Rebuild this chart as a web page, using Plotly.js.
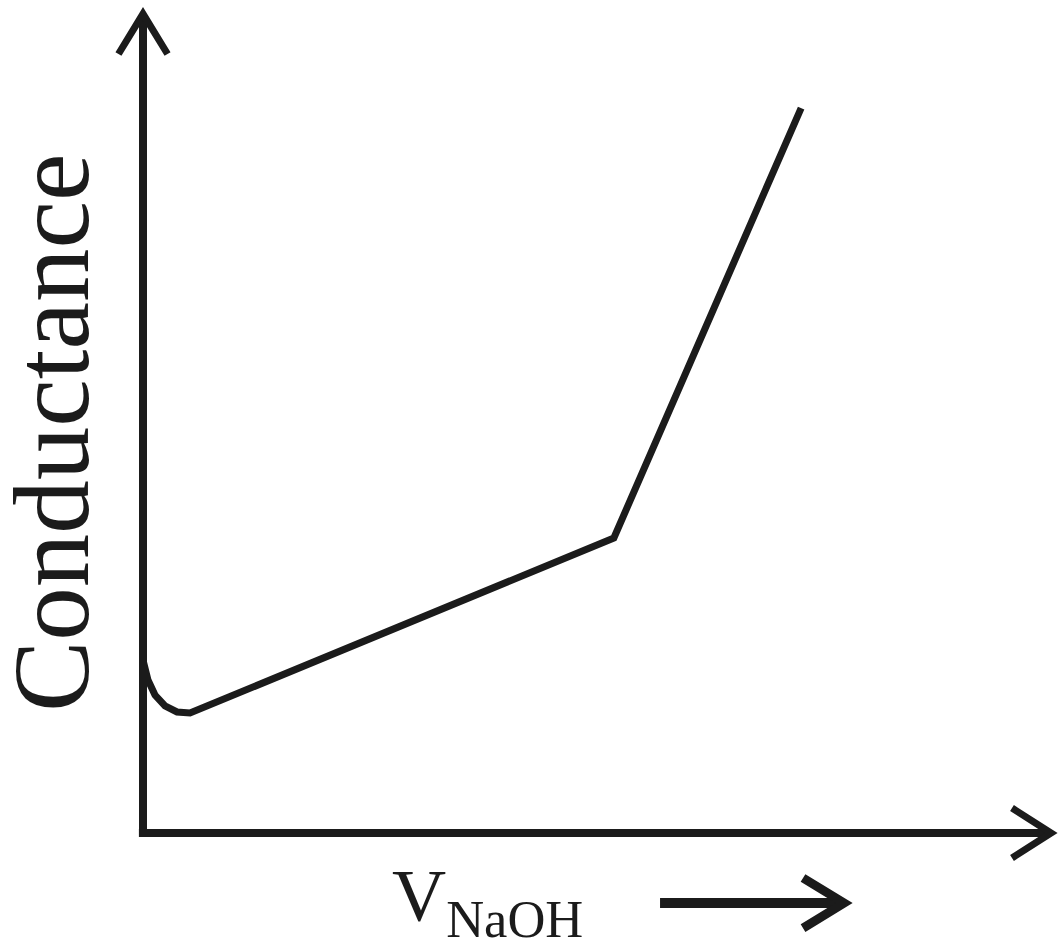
<!DOCTYPE html>
<html>
<head>
<meta charset="utf-8">
<script src="https://cdn.plot.ly/plotly-3.0.1.min.js"></script>
<style>html,body{margin:0;padding:0;background:#fff;}#chart{width:1062px;height:941px;}</style>
</head>
<body>
<div id="chart"></div>
<script>
// Data (arbitrary units)
const volumeNaOH = [0, 0.055, 0.132, 0.242, 0.374, 0.517, 5.18, 7.24];
const conductance = [2.11, 1.866, 1.683, 1.549, 1.476, 1.463, 3.598, 8.841];
const yTitle = 'Conductance';
const xTitle = 'V<sub>NaOH</sub>';

const ink = '#1b1b1b';

const trace = {
  x: volumeNaOH,
  y: conductance,
  type: 'scatter',
  mode: 'lines',
  line: {color: ink, width: 7, shape: 'linear'},
  hoverinfo: 'skip',
  showlegend: false
};

const hiddenAxis = {
  showgrid: false, zeroline: false, showline: false,
  showticklabels: false, ticks: '', fixedrange: true
};

const layout = {
  width: 1062,
  height: 941,
  margin: {l: 143, r: 10, t: 13, b: 108},
  paper_bgcolor: '#ffffff',
  plot_bgcolor: '#ffffff',
  xaxis: Object.assign({range: [0, 10]}, hiddenAxis),
  yaxis: Object.assign({range: [0, 10]}, hiddenAxis),
  shapes: [
    // y axis line
    {type: 'line', xref: 'paper', yref: 'paper', x0: 0, x1: 0, y0: -0.005, y1: 0.998,
     line: {color: ink, width: 8}},
    // y axis arrowhead
    {type: 'path', xref: 'paper', yref: 'paper', path: 'M-0.027,0.950 L0,0.999 L0.027,0.950',
     line: {color: ink, width: 7}},
    // x axis line
    {type: 'line', xref: 'paper', yref: 'paper', x0: -0.0045, x1: 0.998, y0: 0, y1: 0,
     line: {color: ink, width: 8}},
    // x axis arrowhead
    {type: 'path', xref: 'paper', yref: 'paper', path: 'M0.956,0.0305 L0.999,0 L0.956,-0.0305',
     line: {color: ink, width: 7}},
    // arrow next to the x label: shaft
    {type: 'line', xref: 'paper', yref: 'paper', x0: 0.5688, x1: 0.768, y0: -0.0854, y1: -0.0854,
     line: {color: ink, width: 10}},
    // arrow next to the x label: head
    {type: 'path', xref: 'paper', yref: 'paper', path: 'M0.7261,-0.0549 L0.7712,-0.0854 L0.7261,-0.1159',
     line: {color: ink, width: 9}}
  ],
  annotations: [
    {text: yTitle, xref: 'paper', yref: 'paper', x: -0.1001, y: 0.4878,
     xanchor: 'center', yanchor: 'middle', textangle: -90, showarrow: false,
     font: {family: 'Liberation Serif, Times New Roman, serif', size: 107, color: ink}},
    {text: xTitle, xref: 'paper', yref: 'paper', x: 0.2717, y: -0.0232,
     xanchor: 'left', yanchor: 'top', showarrow: false,
     font: {family: 'Liberation Serif, Times New Roman, serif', size: 75, color: ink}}
  ]
};

Plotly.newPlot('chart', [trace], layout, {staticPlot: true, displayModeBar: false});
</script>
</body>
</html>
